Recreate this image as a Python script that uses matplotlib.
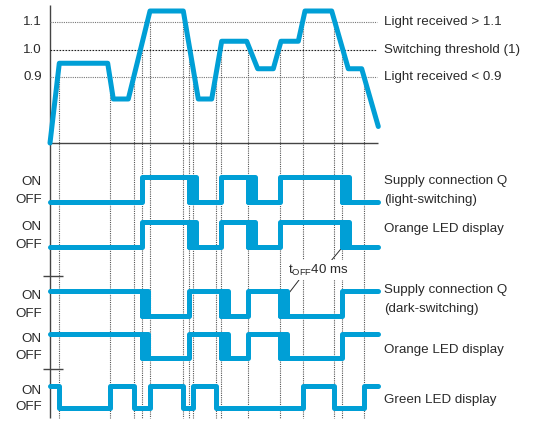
import matplotlib
matplotlib.use("Agg")
import matplotlib.pyplot as plt

plt.rcParams["font.family"] = ["Liberation Sans", "DejaVu Sans"]
plt.rcParams["font.size"] = 9.6

BLUE = "#009fd6"
INK = "#2a2a2a"
LW = 3.6

# light received curve (time, relative level)
curve_t = [50, 59.3, 107.7, 113.3, 128.3, 150, 183.3, 198.3, 211.7, 221.7, 246.7,
           257.7, 273.3, 281, 298.3, 305, 331.7, 348.3, 361.7, 378.3]
curve_v = [0.66, 0.95, 0.95, 0.82, 0.82, 1.14, 1.14, 0.82, 0.82, 1.03, 1.03,
           0.93, 0.93, 1.03, 1.03, 1.14, 1.14, 0.93, 0.93, 0.72]

levels = [1.1, 1.0, 0.9]
level_ticks = ["1.1", "1.0", "0.9"]
level_texts = ["Light received > 1.1", "Switching threshold (1)", "Light received < 0.9"]

# threshold crossings of the curve
cross_t = [58.7, 109.7, 134.3, 141.7, 150, 183.3, 189, 193.3, 215.7, 221, 248.3,
           280, 303.3, 334.3, 342.3, 363.5]
cross_v = [0.9, 0.9, 0.9, 1.0, 1.1, 1.1, 1.0, 0.9, 0.9, 1.0, 1.0,
           1.0, 1.1, 1.1, 1.0, 0.9]

up_t = [141.7, 221, 280]        # rising through switching threshold
down_t = [189, 248.3, 342.3]    # falling through switching threshold
t_off = 6.5                     # 40 ms off delay
green_off_t = [58.7, 134.3, 183.3, 215.7, 334.3]
green_on_t = [109.7, 150, 193.3, 303.3, 363.5]
t_start, t_end = 50, 378

# rows: labels, ON times, OFF times, start state, off delay drawn
rows = [
    (["Supply connection Q", "(light-switching)"], up_t, down_t, 0, True),
    (["Orange LED display"], up_t, down_t, 0, True),
    (["Supply connection Q", "(dark-switching)"], down_t, up_t, 1, True),
    (["Orange LED display"], down_t, up_t, 1, True),
    (["Green LED display"], green_on_t, green_off_t, 1, False),
]

# layout in pixels
W, H = 544, 426
row_px = [(176.7, 202.3), (221.7, 246.7), (290.7, 315.7), (334, 358.3), (386, 408.3)]
row_text_px = [[180.7, 200], [229.3], [290, 309.3], [350], [400]]
sep_px = [276, 369]


def steps(start, on_t, off_t):
    ev = sorted([(t, 1) for t in on_t] + [(t, 0) for t in off_t])
    xs, ys = [t_start], [start]
    s = start
    for t, new in ev:
        xs += [t, t]
        ys += [s, new]
        s = new
    xs.append(t_end)
    ys.append(s)
    return xs, ys


fig = plt.figure(figsize=(W / 100, H / 100), dpi=100)

bg = fig.add_axes([0, 0, 1, 1], zorder=0)
bg.set_xlim(0, W)
bg.set_ylim(H, 0)
bg.axis("off")

top = fig.add_axes([0, 1 - 77 / H, 1, 55 / H], zorder=1)
top.set_xlim(0, W)
top.set_ylim(0.9, 1.1)
top.axis("off")
top.patch.set_alpha(0)

# threshold lines and labels
for v, tick, txt in zip(levels, level_ticks, level_texts):
    dark = v == 1.0
    top.hlines(v, t_start, 377, colors="#222" if dark else "#777",
               linestyles=(0, (1.5, 1.2)) if dark else (0, (1, 1)), lw=0.8, clip_on=False)
    top.text(42, v, tick, ha="right", va="center", color=INK, clip_on=False)
    top.text(384, v, txt, ha="left", va="center", color=INK, clip_on=False)

top.plot(curve_t, curve_v, color=BLUE, lw=LW, solid_joinstyle="round",
         solid_capstyle="round", clip_on=False, zorder=3)

# vertical event lines from the crossing point down to the bottom
inv = bg.transData.inverted()
for t, v in zip(cross_t, cross_v):
    y0 = inv.transform(top.transData.transform((t, v)))[1]
    bg.vlines(t, y0, 418, colors="#555", linestyles=(0, (1, 1)), lw=0.8)

# axis lines
bg.vlines(t_start, 5, 418, colors="#444", lw=1.0)
bg.hlines(143, t_start, t_end, colors="#444", lw=1.0)
bg.hlines(sep_px, 42.7, 63.3, colors="#444", lw=1.0)

row_axes = []
for (labels, on_t, off_t, start, delayed), (on_px, off_px), tys in zip(rows, row_px, row_text_px):
    ax = fig.add_axes([0, 1 - off_px / H, 1, (off_px - on_px) / H], zorder=1)
    ax.set_xlim(0, W)
    ax.set_ylim(0, 1)
    ax.axis("off")
    ax.patch.set_alpha(0)
    xs, ys = steps(start, on_t, off_t)
    ax.plot(xs, ys, color=BLUE, lw=LW, solid_joinstyle="round",
            solid_capstyle="round", clip_on=False)
    if delayed:
        for t in off_t:
            ax.fill([t, t + t_off, t + t_off, t], [0, 0, 1, 1], fc=BLUE, ec=BLUE,
                    lw=LW, joinstyle="round", clip_on=False)
    ax.text(42, 0.78, "ON", ha="right", va="center", color=INK, clip_on=False)
    ax.text(42, 0.08, "OFF", ha="right", va="center", color=INK, clip_on=False)
    for txt, ty in zip(labels, tys):
        bg.text(384, ty, txt, ha="left", va="center", color=INK)
    row_axes.append(ax)

# off delay annotation
bg.text(288, 270, r"t$_\mathregular{OFF}$40 ms", ha="left", va="center", color=INK,
        zorder=5, bbox=dict(fc="white", ec="none", pad=1.5))
bg.annotate("", xy=(345.7, 0.14), xycoords=row_axes[1].transData,
            xytext=(331.7, 260), textcoords="data",
            arrowprops=dict(arrowstyle="-", lw=0.7, color=INK, shrinkA=0, shrinkB=0))
bg.annotate("", xy=(285, 0.7), xycoords=row_axes[2].transData,
            xytext=(299, 280), textcoords="data",
            arrowprops=dict(arrowstyle="-", lw=0.7, color=INK, shrinkA=0, shrinkB=0))

fig.savefig("out.png", dpi=100)
